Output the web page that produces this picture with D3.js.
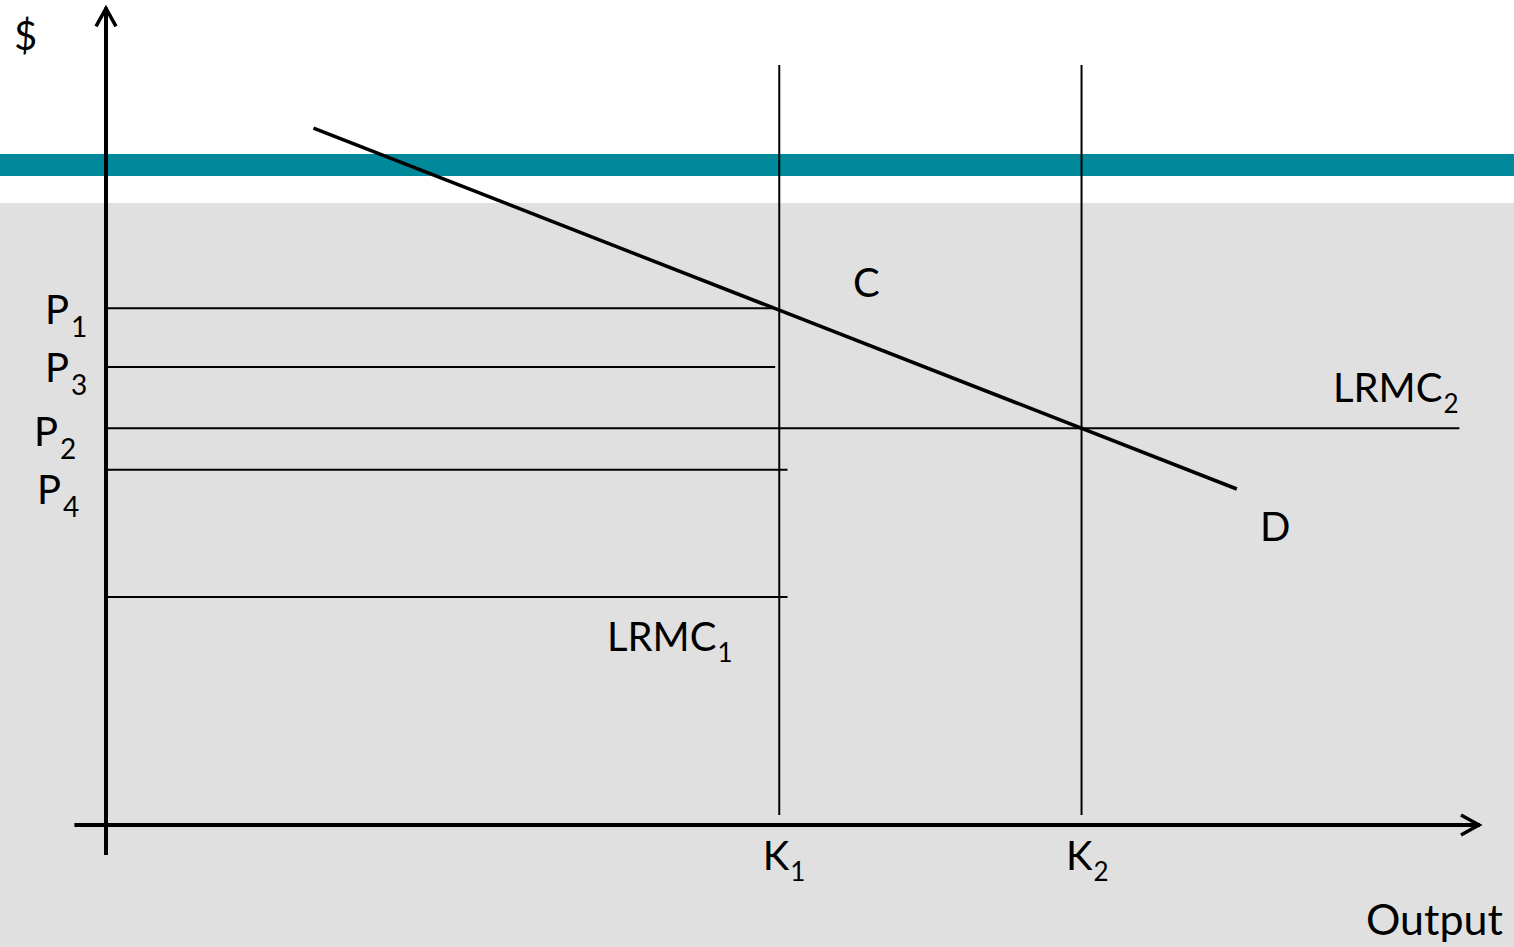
<!DOCTYPE html>
<html><head><meta charset="utf-8">
<script src="https://cdn.jsdelivr.net/npm/d3@7"></script>
<style>html,body{margin:0;padding:0;background:#fff;overflow:hidden}</style>
</head><body><svg id="c" width="1514" height="947"></svg>
<script>
// ---- data (output units on x, $ on y) ----
const priceNames   = ["P1", "P3", "P2", "P4", "LRMC1"];
const priceLevels  = [64.6, 57.25, 49.6, 44.4, 28.5];
const priceLineEnd = [4.87, 4.87, 9.85, 4.96, 4.96];
const capacityNames  = ["K1", "K2"];
const capacityValues = [4.90, 7.10];
const capacityTop    = 95;
const capacityBottom = 1.25;
const demandX = [1.51, 8.23];
const demandY = [87.1, 42.0];
// annotation labels
const labelMain = ["$", "P", "P", "P", "P", "C", "D", "LRMC", "LRMC", "K", "K", "Output"];
const labelSub  = ["",  "1", "3", "2", "4", "",  "",  "2",    "1",    "1", "2", ""];
const labelX    = [-0.67, -0.444, -0.444, -0.524, -0.502, 5.437, 8.399, 8.93, 3.646, 4.78, 6.987, 9.17];
const labelY    = [96.9, 62.6, 55.4, 47.4, 40.1, 66.0, 35.5, 52.9, 21.75, -5.6, -5.6, -13.75];

const W = 1514, H = 947;
const svg = d3.select("#c");
const x = d3.scaleLinear().domain([0, 10]).range([106, 1480]);
const y = d3.scaleLinear().domain([0, 100]).range([825, 25]);

// background
svg.append("rect").attr("x",0).attr("y",0).attr("width",W).attr("height",H).attr("fill","#fff");
svg.append("rect").attr("x",0).attr("y",203).attr("width",W).attr("height",H-203).attr("fill","#e0e0e0");
svg.append("rect").attr("x",0).attr("y",154).attr("width",W).attr("height",22).attr("fill","#00899b");

const g = svg.append("g");

// horizontal price lines
g.selectAll("line.price").data(priceLevels).join("line")
  .attr("class","price")
  .attr("x1", x(0)).attr("x2", (d,i)=>x(priceLineEnd[i]))
  .attr("y1", d=>y(d)).attr("y2", d=>y(d))
  .attr("stroke","#000").attr("stroke-width",2);

// capacity verticals
g.selectAll("line.cap").data(capacityValues).join("line")
  .attr("class","cap")
  .attr("x1", d=>x(d)).attr("x2", d=>x(d))
  .attr("y1", y(capacityTop)).attr("y2", y(capacityBottom))
  .attr("stroke","#000").attr("stroke-width",2);

// demand
g.append("path")
  .datum(demandX.map((d,i)=>[d, demandY[i]]))
  .attr("d", d3.line().x(d=>x(d[0])).y(d=>y(d[1])))
  .attr("stroke","#000").attr("stroke-width",3.5).attr("fill","none");

// axes
g.append("line").attr("x1", x(0)).attr("x2", x(0)).attr("y1", y(-3.75)).attr("y2", y(102.2))
  .attr("stroke","#000").attr("stroke-width",4);
g.append("line").attr("x1", x(-0.23)).attr("x2", x(10)).attr("y1", y(0)).attr("y2", y(0))
  .attr("stroke","#000").attr("stroke-width",4);
// arrowheads
const ax0 = x(0), ayTop = y(102.2);
g.append("path").attr("d", `M${ax0-10},${ayTop+19}L${ax0},${ayTop+1}L${ax0+10},${ayTop+19}`)
  .attr("stroke","#000").attr("stroke-width",3.5).attr("fill","none");
const axEnd = x(10), ay0 = y(0);
g.append("path").attr("d", `M${axEnd-19},${ay0-10}L${axEnd-1},${ay0}L${axEnd-19},${ay0+10}`)
  .attr("stroke","#000").attr("stroke-width",3.5).attr("fill","none");

// labels
const FONT = "Lato, 'Open Sans', sans-serif";
labelMain.forEach((t,i)=>{
  const txt = g.append("text")
    .attr("x", x(labelX[i])).attr("y", y(labelY[i]))
    .attr("font-family", FONT).attr("font-size", t === "Output" ? 43 : 40).attr("fill","#000");
  txt.append("tspan").text(t);
  if (labelSub[i]) {
    const big = labelMain[i] === "P";
    txt.append("tspan").text(labelSub[i])
      .attr("font-size", big ? 28 : 26)
      .attr("dx", big ? 2 : 1)
      .attr("dy", big ? 13 : 11);
  }
});
</script></body></html>
